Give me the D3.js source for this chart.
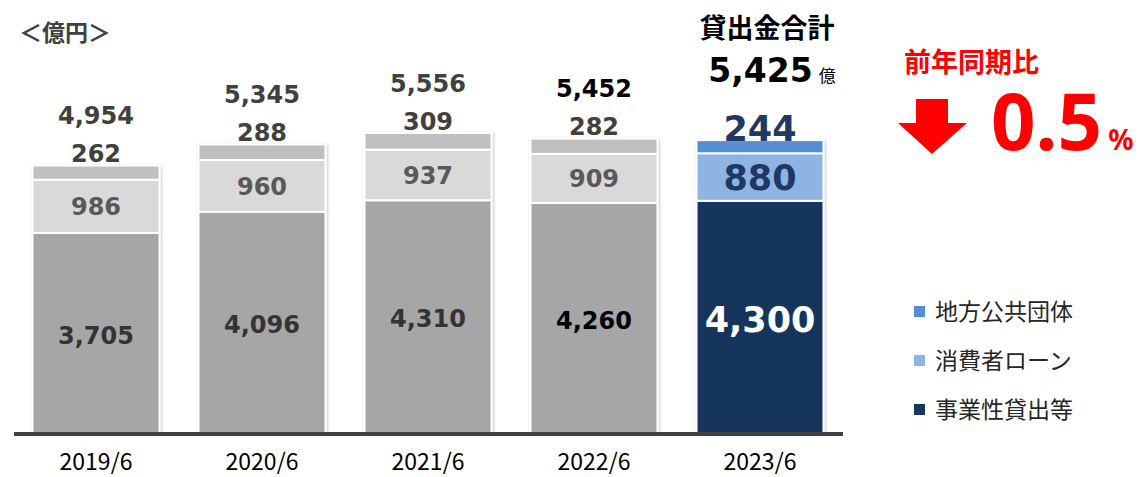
<!DOCTYPE html>
<html>
<head>
<meta charset="utf-8">
<script src="https://cdn.jsdelivr.net/npm/d3@7"></script>
<style>
body{margin:0;background:#fff;overflow:hidden;}
text{font-family:"DejaVu Sans","Noto Sans CJK JP",sans-serif;}
.jp{font-family:"Noto Sans CJK JP",sans-serif;}
.pct{font-family:"Noto Sans",sans-serif;}
</style>
</head>
<body>
<svg id="chart"></svg>
<script>
var years = ["2019/6","2020/6","2021/6","2022/6","2023/6"];
var business = [3705,4096,4310,4260,4300];   // 事業性貸出等
var consumer = [986,960,937,909,880];        // 消費者ローン
var localGov = [262,288,309,282,244];        // 地方公共団体
var totals = [4954,5345,5556,5452,5425];
var legendNames = ["地方公共団体","消費者ローン","事業性貸出等"];

var grayColors = ["#a6a6a6","#d9d9d9","#bfbfbf"];
var blueColors = ["#17365d","#8eb4e3","#558ed5"];

var screen = {width:1141, height:477};
var svg = d3.select("#chart")
    .attr("width",screen.width)
    .attr("height",screen.height)
    .style("display","block");

var defs = svg.append("defs");
defs.append("filter").attr("id","shadow")
    .attr("x","-10%").attr("y","-10%").attr("width","120%").attr("height","120%")
    .append("feDropShadow")
    .attr("dx",1).attr("dy",1).attr("stdDeviation",1.5)
    .attr("flood-color","#000").attr("flood-opacity",0.25);

var xScale = d3.scaleBand()
    .domain(years)
    .range([13,843])
    .paddingInner(0.235)
    .paddingOuter(0.1175);

var yScale = d3.scaleLinear()
    .domain([0,6000])
    .range([433,109]);

// build stacked rows
var rows = years.map(function(y,i){
    return {year:y, idx:i, parts:[business[i],consumer[i],localGov[i]], total:totals[i]};
});

var bars = svg.append("g").selectAll("g")
    .data(rows)
    .enter()
    .append("g")
    .attr("filter","url(#shadow)");

bars.each(function(row){
    var g = d3.select(this);
    var base = 0;
    var colors = row.idx==4 ? blueColors : grayColors;
    row.parts.forEach(function(v,k){
        g.append("rect")
            .attr("x",xScale(row.year))
            .attr("width",xScale.bandwidth())
            .attr("y",yScale(base+v))
            .attr("height",yScale(base)-yScale(base+v))
            .attr("fill",colors[k])
            .attr("stroke","#fff")
            .attr("stroke-width",2);
        base += v;
    });
});

var fmt = d3.format(",");
var labels = svg.append("g");
rows.forEach(function(row){
    var cx = xScale(row.year)+xScale.bandwidth()/2;
    var last = row.idx==4;
    var b = row.parts[0], c = row.parts[1], l = row.parts[2];
    // bottom segment
    labels.append("text")
        .attr("x",cx).attr("y",yScale(b/2)+2)
        .attr("dy","0.36em")
        .attr("text-anchor","middle")
        .attr("font-weight","bold")
        .attr("font-size",last?35:24)
        .attr("fill",last?"#fff":(row.idx==3?"#000":"#333"))
        .text(fmt(b));
    // middle segment
    labels.append("text")
        .attr("x",cx).attr("y",yScale(b+c/2))
        .attr("dy","0.36em")
        .attr("text-anchor","middle")
        .attr("font-weight","bold")
        .attr("font-size",last?35:24)
        .attr("fill",last?"#1f3864":"#595959")
        .text(fmt(c));
    // top segment (above the bar)
    labels.append("text")
        .attr("x",cx).attr("y",yScale(row.total)-12)
        .attr("dy","0.36em")
        .attr("text-anchor","middle")
        .attr("font-weight","bold")
        .attr("font-size",last?35:24)
        .attr("fill",last?"#1f3864":"#404040")
        .text(fmt(l));
    if(!last){
        labels.append("text")
            .attr("x",cx).attr("y",yScale(row.total)-50)
            .attr("dy","0.36em")
            .attr("text-anchor","middle")
            .attr("font-weight","bold")
            .attr("font-size",24)
            .attr("fill",row.idx==3?"#000":"#404040")
            .text(fmt(row.total));
    }
});

// baseline
svg.append("line")
    .attr("x1",14).attr("x2",843)
    .attr("y1",yScale(0)+1).attr("y2",yScale(0)+1)
    .attr("stroke","#404040").attr("stroke-width",4);

// x axis labels
var xAxis = d3.axisBottom(xScale).tickSize(0).tickPadding(0);
var ax = svg.append("g")
    .attr("transform","translate(0,470)")
    .call(xAxis);
ax.select(".domain").remove();
ax.selectAll("text")
    .attr("class","jp")
    .attr("font-size",23)
    .attr("fill","#000")
    .attr("dy",0);

// unit label
svg.append("text").attr("class","jp")
    .attr("x",19).attr("y",41)
    .attr("font-size",23).attr("font-weight","bold").attr("fill","#404040")
    .text("＜億円＞");

// total header for latest
var lastX = xScale(years[4])+xScale.bandwidth()/2;
svg.append("text").attr("class","jp")
    .attr("x",lastX+7).attr("y",38)
    .attr("text-anchor","middle")
    .attr("font-size",27).attr("font-weight","bold").attr("fill","#000")
    .text("貸出金合計");
var tot = svg.append("text")
    .attr("x",lastX+12).attr("y",82)
    .attr("text-anchor","middle")
    .attr("font-weight","bold").attr("fill","#000");
tot.append("tspan").attr("font-size",33).text(fmt(totals[4]));
tot.append("tspan").attr("class","jp").attr("font-size",17).attr("font-weight","normal").attr("dx",6).text("億");

// year-on-year
svg.append("text").attr("class","jp")
    .attr("x",904).attr("y",72)
    .attr("font-size",27).attr("font-weight","bold").attr("fill","#ff0000")
    .text("前年同期比");
svg.append("path")
    .attr("d","M916,99 L948,99 L948,123 L967,123 L932,154 L898,123 L916,123 Z")
    .attr("fill","#ff0000");
var pct = svg.append("text")
    .attr("class","pct")
    .attr("x",991).attr("y",150)
    .attr("font-weight","bold").attr("fill","#ff0000");
pct.append("tspan").attr("font-size",78).text("0.5");
pct.append("tspan").attr("font-size",28).attr("dx",6).text("%");

// legend
var legend = svg.append("g").selectAll("g")
    .data(legendNames)
    .enter()
    .append("g")
    .attr("transform",function(d,i){return "translate(914,"+(312+i*49)+")";});
legend.append("rect")
    .attr("x",0).attr("y",-6).attr("width",11).attr("height",11)
    .attr("fill",function(d,i){return [blueColors[2],blueColors[1],blueColors[0]][i];});
legend.append("text").attr("class","jp")
    .attr("x",21).attr("y",0).attr("dy","0.36em")
    .attr("font-size",23).attr("fill","#262626")
    .text(function(d){return d;});
</script>
</body>
</html>
